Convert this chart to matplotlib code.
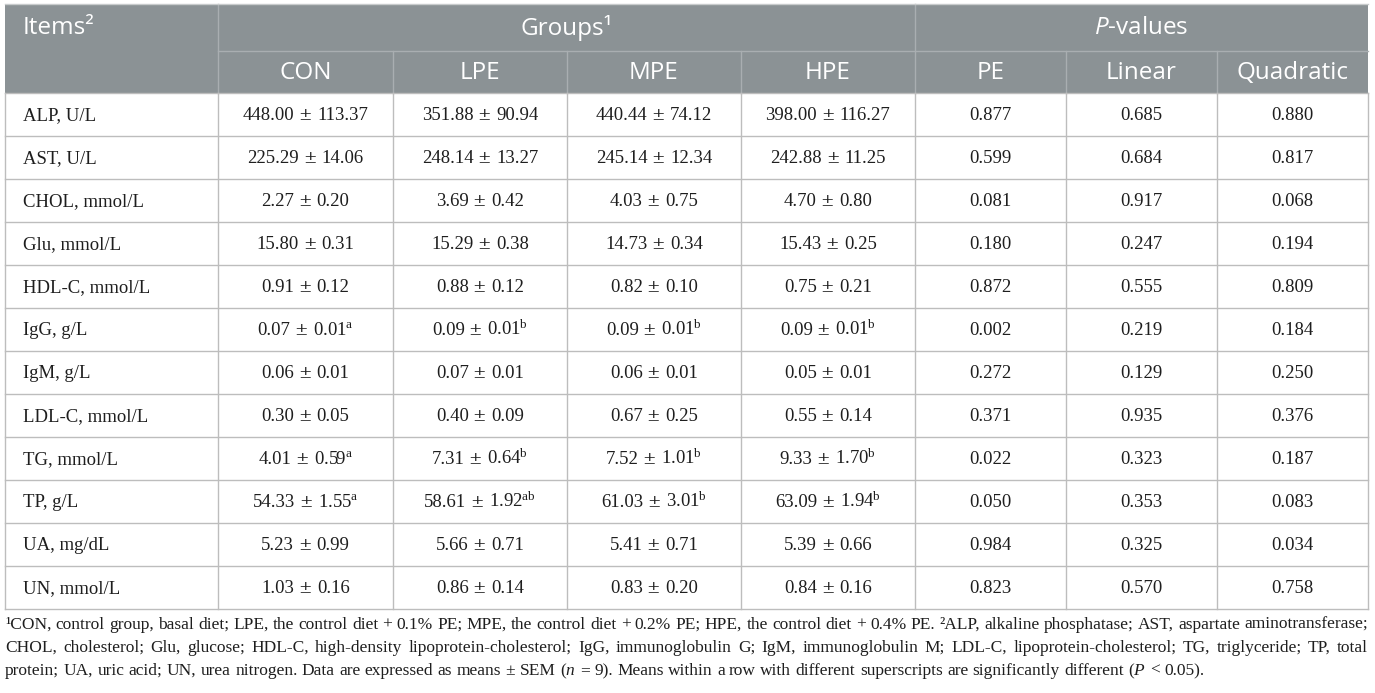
import matplotlib
matplotlib.use("Agg")
import matplotlib.pyplot as plt
from matplotlib.patches import Rectangle

plt.rcParams['mathtext.fontset'] = 'custom'
plt.rcParams['mathtext.rm'] = 'Liberation Serif'
plt.rcParams['mathtext.it'] = 'Liberation Serif:italic'
plt.rcParams['mathtext.sf'] = 'Open Sans'
plt.rcParams['mathtext.cal'] = 'Open Sans:italic'

# ---------------- data ----------------
items = ["ALP, U/L", "AST, U/L", "CHOL, mmol/L", "Glu, mmol/L", "HDL-C, mmol/L",
         "IgG, g/L", "IgM, g/L", "LDL-C, mmol/L", "TG, mmol/L", "TP, g/L",
         "UA, mg/dL", "UN, mmol/L"]
groups = ["CON", "LPE", "MPE", "HPE"]
pcols = ["PE", "Linear", "Quadratic"]

con_mean = [448.00, 225.29, 2.27, 15.80, 0.91, 0.07, 0.06, 0.30, 4.01, 54.33, 5.23, 1.03]
con_sem = [113.37, 14.06, 0.20, 0.31, 0.12, 0.01, 0.01, 0.05, 0.59, 1.55, 0.99, 0.16]
con_sup = ["", "", "", "", "", "a", "", "", "a", "a", "", ""]
lpe_mean = [351.88, 248.14, 3.69, 15.29, 0.88, 0.09, 0.07, 0.40, 7.31, 58.61, 5.66, 0.86]
lpe_sem = [90.94, 13.27, 0.42, 0.38, 0.12, 0.01, 0.01, 0.09, 0.64, 1.92, 0.71, 0.14]
lpe_sup = ["", "", "", "", "", "b", "", "", "b", "ab", "", ""]
mpe_mean = [440.44, 245.14, 4.03, 14.73, 0.82, 0.09, 0.06, 0.67, 7.52, 61.03, 5.41, 0.83]
mpe_sem = [74.12, 12.34, 0.75, 0.34, 0.10, 0.01, 0.01, 0.25, 1.01, 3.01, 0.71, 0.20]
mpe_sup = ["", "", "", "", "", "b", "", "", "b", "b", "", ""]
hpe_mean = [398.00, 242.88, 4.70, 15.43, 0.75, 0.09, 0.05, 0.55, 9.33, 63.09, 5.39, 0.84]
hpe_sem = [116.27, 11.25, 0.80, 0.25, 0.21, 0.01, 0.01, 0.14, 1.70, 1.94, 0.66, 0.16]
hpe_sup = ["", "", "", "", "", "b", "", "", "b", "b", "", ""]
p_pe = ["0.877", "0.599", "0.081", "0.180", "0.872", "0.002", "0.272", "0.371", "0.022", "0.050", "0.984", "0.823"]
p_linear = ["0.685", "0.684", "0.917", "0.247", "0.555", "0.219", "0.129", "0.935", "0.323", "0.353", "0.325", "0.570"]
p_quad = ["0.880", "0.817", "0.068", "0.194", "0.809", "0.184", "0.250", "0.376", "0.187", "0.083", "0.034", "0.758"]

foot_lines = [
    "\u00b9CON, control group, basal diet; LPE, the control diet + 0.1% PE; MPE, the control diet + 0.2% PE; "
    "HPE, the control diet + 0.4% PE. \u00b2ALP, alkaline phosphatase; AST, aspartate aminotransferase;",
    "CHOL, cholesterol; Glu, glucose; HDL-C, high-density lipoprotein-cholesterol; IgG, immunoglobulin G; "
    "IgM, immunoglobulin M; LDL-C, lipoprotein-cholesterol; TG, triglyceride; TP, total",
    "protein; UA, uric acid; UN, urea nitrogen. Data are expressed as means \u00b1 SEM ($n$ = 9). "
    "Means within a row with different superscripts are significantly different ($P$ < 0.05).",
]

# ---------------- layout ----------------
W, H = 1375, 693
fig = plt.figure(figsize=(W / 100, H / 100), dpi=100)
ax = fig.add_axes([0, 0, 1, 1])
ax.set_xlim(0, W)
ax.set_ylim(H, 0)
ax.axis("off")
renderer = fig.canvas.get_renderer()

col_x = [5, 218, 393, 567, 741, 915, 1066, 1217, 1368]
top, h_mid, h_bot = 4, 51, 93
row_h = 43
n = len(items)
row_y = [h_bot + i * row_h for i in range(n + 1)]

HEAD = "#8b9295"
HEAD_LINE = "#a9aeb1"
GRID = "#bdbdbd"
TXT = "#1e1e1e"
SANS = "Open Sans"
SERIF = "Liberation Serif"
hfs = 17.5
bfs = 13.5
ffs = 12.5

# header background
ax.add_patch(Rectangle((col_x[0], top), col_x[-1] - col_x[0], h_bot - top,
                       facecolor=HEAD, edgecolor="none", zorder=1))
ax.plot([col_x[1], col_x[-1]], [h_mid, h_mid], color=HEAD_LINE, lw=1, zorder=2)
for xi in [col_x[1], col_x[5]]:
    ax.plot([xi, xi], [top, h_bot], color=HEAD_LINE, lw=1, zorder=2)
for xi in col_x[2:5] + col_x[6:8]:
    ax.plot([xi, xi], [h_mid, h_bot], color=HEAD_LINE, lw=1, zorder=2)
ax.plot([col_x[0], col_x[-1]], [top, top], color="#c8cbcc", lw=1, zorder=2)

# body grid
for yy in row_y:
    ax.plot([col_x[0], col_x[-1]], [yy, yy], color=GRID, lw=1, zorder=2)
for xi in col_x:
    ax.plot([xi, xi], [h_bot, row_y[-1]], color=GRID, lw=1, zorder=2)

# header text
hy1 = 28
ax.text(23, hy1, "Items\u00b2", fontfamily=SANS, fontsize=hfs, color="white",
        ha="left", va="center", zorder=3)
ax.text((col_x[1] + col_x[5]) / 2, hy1, "Groups\u00b9", fontfamily=SANS, fontsize=hfs,
        color="white", ha="center", va="center", zorder=3)
ax.text((col_x[5] + col_x[8]) / 2, hy1, r"$\mathcal{P}$-values", fontfamily=SANS,
        fontsize=hfs, color="white", ha="center", va="center", zorder=3)
sub_heads = groups + pcols
for j, lab in enumerate(sub_heads):
    cx = (col_x[j + 1] + col_x[j + 2]) / 2
    ax.text(cx, (h_mid + h_bot) / 2 + 1, lab, fontfamily=SANS, fontsize=hfs,
            color="white", ha="center", va="center", zorder=3)


def width_of(t):
    return t.get_window_extent(renderer=renderer).width


def centered_pieces(cx, cy, pieces):
    """pieces: list of (text, family, size, gap_after)."""
    objs = []
    total = 0
    for s, fam, fs, gap in pieces:
        t = ax.text(0, cy, s, fontfamily=fam, fontsize=fs, color=TXT,
                    ha="left", va="baseline", zorder=3)
        w = width_of(t)
        objs.append((t, w, gap))
        total += w + gap
    total -= objs[-1][2]
    x = cx - total / 2
    for t, w, gap in objs:
        t.set_x(x)
        x += w + gap


def cell_text(cx, cy, mean, sem, sup):
    right = f"{sem:.2f}"
    if sup:
        right += r"$^{\mathrm{" + sup + "}}$"
    centered_pieces(cx, cy, [(f"{mean:.2f}", SERIF, bfs, 4),
                             ("\u00b1", "DejaVu Serif", 11.5, 5),
                             (right, SERIF, bfs, 0)])


group_data = [(con_mean, con_sem, con_sup), (lpe_mean, lpe_sem, lpe_sup),
              (mpe_mean, mpe_sem, mpe_sup), (hpe_mean, hpe_sem, hpe_sup)]
p_data = [p_pe, p_linear, p_quad]

for i in range(n):
    cy = (row_y[i] + row_y[i + 1]) / 2
    by = cy + 5.5
    ax.text(23, by, items[i], fontfamily=SERIF, fontsize=bfs, color=TXT,
            ha="left", va="baseline", zorder=3)
    for j, (m, s, sp) in enumerate(group_data):
        cx = (col_x[j + 1] + col_x[j + 2]) / 2
        cell_text(cx, by, m[i], s[i], sp[i])
    for j, pv in enumerate(p_data):
        cx = (col_x[j + 5] + col_x[j + 6]) / 2
        ax.text(cx, by, pv[i], fontfamily=SERIF, fontsize=bfs, color=TXT,
                ha="center", va="baseline", zorder=3)

# footnote (justified)
foot_base = [629, 652, 675]
x_left, x_right = col_x[0], col_x[-1]
sp_t = ax.text(0, 0, "a b", fontfamily=SERIF, fontsize=ffs)
ab = ax.text(0, 0, "ab", fontfamily=SERIF, fontsize=ffs)
space_w = width_of(sp_t) - width_of(ab)
sp_t.remove()
ab.remove()
for k, line in enumerate(foot_lines):
    words = line.split(" ")
    objs = []
    widths = []
    for w in words:
        t = ax.text(0, foot_base[k], w, fontfamily=SERIF, fontsize=ffs, color=TXT,
                    ha="left", va="baseline", zorder=3)
        objs.append(t)
        widths.append(width_of(t))
    if k < len(foot_lines) - 1:
        gap = (x_right - x_left - sum(widths)) / (len(words) - 1)
    else:
        gap = space_w
    x = x_left
    for t, wd in zip(objs, widths):
        t.set_x(x)
        x += wd + gap

fig.savefig("out.png", dpi=100)
